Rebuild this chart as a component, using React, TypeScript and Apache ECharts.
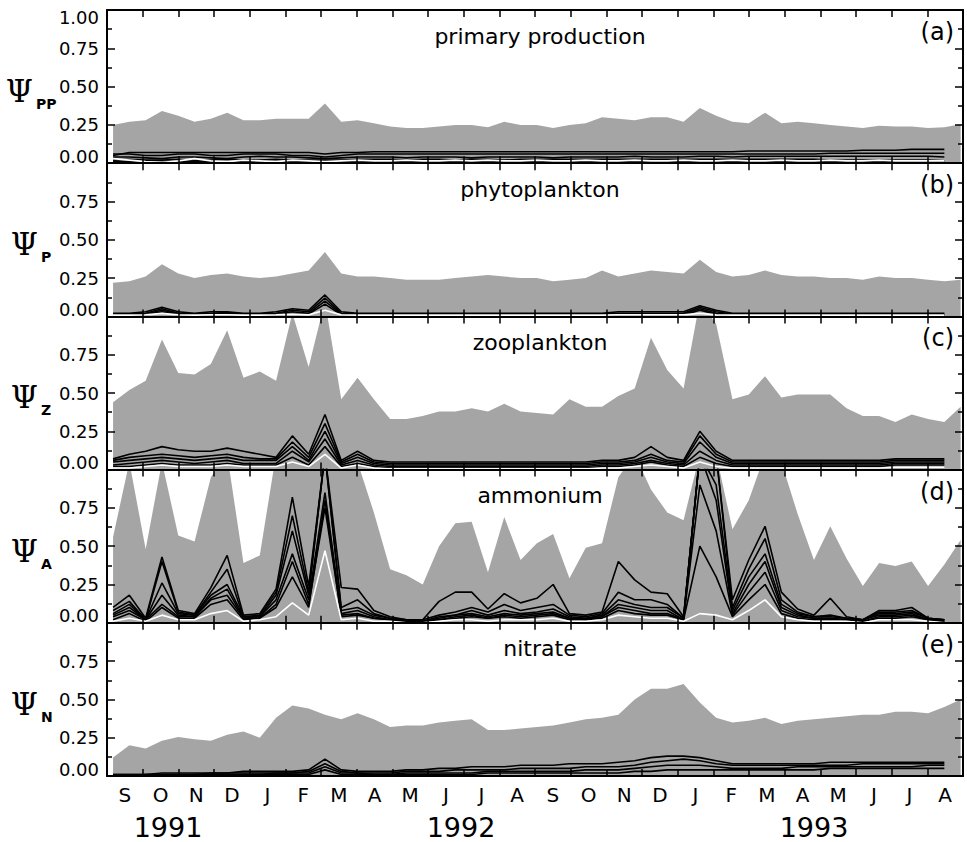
import React, { useEffect, useRef } from "react";
import * as echarts from "echarts";

// ---------- categories / labels ----------
const monthLabels = ["S","O","N","D","J","F","M","A","M","J","J","A","S","O","N","D","J","F","M","A","M","J","J","A"];
const yearLabels = ["1991", "1992", "1993"];
const panelTitles = ["primary production", "phytoplankton", "zooplankton", "ammonium", "nitrate"];
const panelTags = ["(a)", "(b)", "(c)", "(d)", "(e)"];
const psiSubscripts = ["PP", "P", "Z", "A", "N"];

// fortnightly sampling, time in months since 1 Sep 1991
const firstSample = 0.17;
const sampleStep = 0.457;
const sampleCount = 53;
const sampleTimes = Array.from({ length: sampleCount }, (_, k) => firstSample + sampleStep * k);

// ---------- (a) primary production ----------
const envPP = [0.25,0.27,0.28,0.34,0.31,0.27,0.29,0.33,0.28,0.28,0.29,0.29,0.29,0.39,0.27,0.28,0.26,0.24,0.23,0.23,0.24,0.25,0.25,0.235,0.27,0.25,0.25,0.23,0.25,0.26,0.30,0.29,0.28,0.30,0.30,0.27,0.36,0.31,0.27,0.26,0.33,0.26,0.27,0.26,0.25,0.24,0.23,0.245,0.24,0.24,0.23,0.235,0.255];
const pp1 = [0.05,0.07,0.07,0.07,0.07,0.07,0.07,0.07,0.07,0.07,0.07,0.07,0.07,0.06,0.07,0.07,0.075,0.075,0.075,0.075,0.075,0.075,0.075,0.075,0.075,0.075,0.075,0.075,0.075,0.075,0.075,0.075,0.075,0.075,0.075,0.075,0.075,0.075,0.075,0.08,0.08,0.08,0.08,0.08,0.08,0.08,0.085,0.085,0.085,0.09,0.09,0.09];
const pp2 = [0.06,0.06,0.05,0.05,0.06,0.06,0.05,0.05,0.06,0.06,0.06,0.05,0.05,0.04,0.05,0.06,0.06,0.06,0.06,0.06,0.06,0.06,0.06,0.06,0.06,0.06,0.06,0.06,0.06,0.06,0.06,0.06,0.06,0.06,0.06,0.06,0.06,0.06,0.06,0.06,0.06,0.06,0.06,0.06,0.065,0.065,0.065,0.065,0.065,0.065,0.065,0.065];
const pp3 = [0.04,0.04,0.035,0.03,0.04,0.04,0.035,0.03,0.04,0.045,0.04,0.04,0.035,0.03,0.035,0.04,0.04,0.04,0.035,0.04,0.04,0.04,0.035,0.04,0.04,0.04,0.04,0.035,0.04,0.04,0.04,0.04,0.045,0.04,0.04,0.04,0.045,0.045,0.04,0.045,0.045,0.045,0.045,0.045,0.045,0.045,0.045,0.045,0.045,0.045,0.045,0.04];
const pp4 = [0.02,0.025,0.02,0.02,0.025,0.02,0.02,0.025,0.02,0.02,0.025,0.02,0.02,0.02,0.02,0.025,0.025,0.025,0.02,0.025,0.025,0.02,0.025,0.025,0.02,0.025,0.025,0.025,0.025,0.025,0.025,0.025,0.025,0.025,0.025,0.025,0.025,0.025,0.025,0.025,0.025,0.025,0.025,0.025,0.02,0.02,0.02,0.02,0.02,0.02,0.02,0.015];
const pp5 = [0.01,0.01,0.005,0.005,0.01,0.01,0.01,0.005,0.01,0.01,0.01,0.01,0.01,0.005,0.01,0.01,0.01,0.01,0.01,0.01,0.01,0.01,0.01,0.01,0.01,0.01,0.01,0.01,0.01,0.01,0.01,0.01,0.01,0.01,0.01,0.01,0.01,0.01,0.01,0.01,0.01,0.01,0.01,0.01,0.01,0.01,0.01,0.01,0.01,0.01,0.01,0.01];
const ppW = [0.03,0.02,0.01,0.005,0.015,0.03,0.015,0.01,0.02,0.015,0.01,0.02,0.015,0.01,0.015,0.02,0.015,0.015,0.02,0.015,0.015,0.02,0.015,0.02,0.015,0.015,0.02,0.015,0.015,0.02,0.015,0.015,0.02,0.015,0.015,0.02,0.015,0.015,0.02,0.015,0.015,0.02,0.015,0.015,0.02,0.015,0.015,0.02,0.015,0.015,0.015,0.015];

// ---------- (b) phytoplankton ----------
const envP = [0.22,0.23,0.26,0.34,0.28,0.25,0.27,0.28,0.26,0.25,0.26,0.28,0.30,0.42,0.28,0.26,0.26,0.25,0.24,0.24,0.24,0.25,0.26,0.27,0.26,0.25,0.25,0.23,0.24,0.25,0.30,0.26,0.28,0.30,0.29,0.28,0.37,0.29,0.26,0.27,0.30,0.27,0.26,0.26,0.25,0.25,0.24,0.26,0.25,0.25,0.24,0.23,0.24];
const p1 = [0.02,0.02,0.03,0.06,0.03,0.02,0.03,0.03,0.02,0.02,0.03,0.05,0.04,0.14,0.03,0.02,0.02,0.02,0.02,0.02,0.02,0.02,0.02,0.02,0.02,0.02,0.02,0.02,0.02,0.02,0.02,0.03,0.03,0.03,0.03,0.03,0.07,0.04,0.02,0.02,0.02,0.02,0.02,0.02,0.02,0.02,0.02,0.02,0.02,0.02,0.02,0.02];
const p2 = [0.015,0.015,0.02,0.05,0.02,0.015,0.02,0.025,0.015,0.015,0.02,0.04,0.03,0.12,0.02,0.015,0.015,0.015,0.015,0.015,0.015,0.015,0.015,0.015,0.015,0.015,0.015,0.015,0.015,0.015,0.015,0.02,0.02,0.02,0.02,0.02,0.06,0.03,0.015,0.015,0.015,0.015,0.015,0.015,0.015,0.015,0.015,0.015,0.015,0.015,0.015,0.015];
const p3 = [0.01,0.01,0.015,0.04,0.015,0.01,0.015,0.02,0.01,0.01,0.015,0.03,0.02,0.10,0.015,0.01,0.01,0.01,0.01,0.01,0.01,0.01,0.01,0.01,0.01,0.01,0.01,0.01,0.01,0.01,0.01,0.015,0.015,0.015,0.015,0.015,0.05,0.02,0.01,0.01,0.01,0.01,0.01,0.01,0.01,0.01,0.01,0.01,0.01,0.01,0.01,0.01];
const p4 = [0.005,0.005,0.01,0.03,0.01,0.005,0.01,0.01,0.005,0.005,0.01,0.02,0.015,0.08,0.01,0.005,0.005,0.005,0.005,0.005,0.005,0.005,0.005,0.005,0.005,0.005,0.005,0.005,0.005,0.005,0.005,0.01,0.01,0.01,0.01,0.01,0.04,0.015,0.005,0.005,0.005,0.005,0.005,0.005,0.005,0.005,0.005,0.005,0.005,0.005,0.005,0.005];
const pW = [0.008,0.008,0.01,0.02,0.01,0.008,0.01,0.01,0.008,0.008,0.01,0.015,0.01,0.04,0.01,0.008,0.008,0.008,0.008,0.008,0.008,0.008,0.008,0.008,0.008,0.008,0.008,0.008,0.008,0.008,0.008,0.01,0.01,0.01,0.01,0.01,0.02,0.01,0.008,0.008,0.008,0.008,0.008,0.008,0.008,0.008,0.008,0.008,0.008,0.008,0.008,0.008];

// ---------- (c) zooplankton ----------
const envZ = [0.44,0.52,0.58,0.85,0.63,0.62,0.69,0.91,0.60,0.64,0.58,1.02,0.67,1.10,0.46,0.60,0.46,0.33,0.33,0.35,0.38,0.38,0.40,0.38,0.43,0.38,0.37,0.36,0.46,0.41,0.41,0.48,0.53,0.86,0.65,0.53,1.10,0.95,0.46,0.49,0.61,0.47,0.49,0.49,0.49,0.40,0.35,0.35,0.31,0.36,0.33,0.31,0.41];
const z1 = [0.07,0.10,0.12,0.15,0.13,0.12,0.12,0.14,0.12,0.10,0.08,0.22,0.10,0.36,0.06,0.12,0.06,0.05,0.05,0.05,0.05,0.05,0.05,0.05,0.05,0.05,0.05,0.05,0.05,0.05,0.06,0.06,0.08,0.15,0.08,0.06,0.25,0.12,0.06,0.06,0.06,0.06,0.06,0.06,0.06,0.06,0.06,0.06,0.07,0.07,0.07,0.07];
const z2 = [0.06,0.08,0.09,0.10,0.09,0.08,0.09,0.10,0.08,0.07,0.07,0.18,0.08,0.30,0.05,0.10,0.05,0.04,0.04,0.04,0.04,0.04,0.04,0.04,0.04,0.04,0.04,0.04,0.04,0.04,0.05,0.05,0.06,0.10,0.06,0.05,0.22,0.10,0.05,0.05,0.05,0.05,0.05,0.05,0.05,0.05,0.05,0.05,0.06,0.06,0.06,0.06];
const z3 = [0.05,0.06,0.07,0.08,0.07,0.06,0.07,0.08,0.06,0.06,0.06,0.15,0.06,0.25,0.04,0.08,0.04,0.03,0.03,0.03,0.03,0.03,0.03,0.03,0.03,0.03,0.03,0.03,0.03,0.03,0.04,0.04,0.05,0.08,0.05,0.04,0.18,0.08,0.04,0.04,0.04,0.04,0.04,0.04,0.04,0.04,0.04,0.04,0.05,0.05,0.05,0.05];
const z4 = [0.03,0.04,0.05,0.06,0.05,0.04,0.05,0.06,0.04,0.04,0.04,0.12,0.05,0.20,0.03,0.06,0.03,0.02,0.02,0.02,0.02,0.02,0.02,0.02,0.02,0.02,0.02,0.02,0.02,0.02,0.03,0.03,0.04,0.06,0.04,0.03,0.12,0.06,0.03,0.03,0.03,0.03,0.03,0.03,0.03,0.03,0.03,0.03,0.04,0.04,0.04,0.04];
const z5 = [0.02,0.02,0.03,0.04,0.03,0.03,0.03,0.04,0.03,0.03,0.03,0.08,0.03,0.15,0.02,0.04,0.02,0.01,0.01,0.01,0.01,0.01,0.01,0.01,0.01,0.01,0.01,0.01,0.01,0.01,0.02,0.02,0.03,0.05,0.03,0.02,0.08,0.04,0.02,0.02,0.02,0.02,0.02,0.02,0.02,0.02,0.02,0.02,0.03,0.03,0.03,0.03];
const zW = [0.01,0.01,0.02,0.03,0.02,0.02,0.02,0.03,0.02,0.02,0.02,0.05,0.02,0.10,0.01,0.03,0.01,0.005,0.005,0.005,0.005,0.005,0.005,0.005,0.005,0.005,0.005,0.005,0.005,0.005,0.01,0.01,0.02,0.03,0.02,0.01,0.05,0.02,0.01,0.01,0.01,0.01,0.01,0.01,0.01,0.01,0.01,0.01,0.015,0.015,0.015,0.015];

// ---------- (d) ammonium ----------
const envA = [0.56,1.05,0.48,1.05,0.57,0.53,0.95,1.10,0.39,0.44,1.10,1.10,1.10,1.10,1.10,1.05,0.72,0.35,0.31,0.25,0.50,0.65,0.66,0.33,0.69,0.41,0.52,0.58,0.29,0.49,0.52,0.95,1.10,0.87,0.72,0.67,1.10,1.10,0.61,0.80,1.10,1.05,0.71,0.41,0.63,0.42,0.24,0.39,0.37,0.40,0.24,0.38,0.54];
const a1 = [0.10,0.18,0.03,0.43,0.08,0.06,0.23,0.44,0.05,0.06,0.22,0.82,0.24,1.10,0.23,0.22,0.08,0.04,0.02,0.02,0.14,0.20,0.20,0.09,0.19,0.13,0.16,0.25,0.06,0.05,0.07,0.40,0.28,0.20,0.19,0.04,1.10,1.10,0.15,0.41,0.63,0.20,0.09,0.05,0.16,0.04,0.02,0.08,0.08,0.10,0.03,0.02];
const a2 = [0.08,0.14,0.02,0.40,0.07,0.05,0.20,0.35,0.04,0.05,0.20,0.70,0.20,1.10,0.10,0.15,0.06,0.03,0.02,0.02,0.05,0.07,0.10,0.07,0.12,0.08,0.10,0.12,0.05,0.04,0.06,0.20,0.15,0.15,0.12,0.03,1.10,1.10,0.10,0.35,0.55,0.15,0.07,0.04,0.05,0.03,0.02,0.07,0.07,0.08,0.03,0.02];
const a3 = [0.06,0.12,0.02,0.26,0.06,0.05,0.18,0.25,0.04,0.04,0.18,0.60,0.18,1.10,0.08,0.10,0.05,0.03,0.02,0.01,0.04,0.05,0.08,0.05,0.08,0.06,0.07,0.09,0.04,0.03,0.05,0.15,0.12,0.10,0.10,0.03,1.10,0.90,0.08,0.30,0.45,0.12,0.06,0.04,0.04,0.03,0.02,0.06,0.06,0.07,0.03,0.02];
const a4 = [0.05,0.10,0.02,0.18,0.05,0.04,0.16,0.22,0.03,0.04,0.15,0.45,0.15,0.85,0.06,0.08,0.04,0.02,0.01,0.01,0.03,0.05,0.06,0.04,0.06,0.05,0.06,0.07,0.03,0.03,0.04,0.12,0.10,0.08,0.08,0.02,1.10,0.80,0.06,0.25,0.40,0.10,0.05,0.03,0.03,0.02,0.02,0.05,0.05,0.06,0.02,0.02];
const a5 = [0.04,0.08,0.02,0.12,0.04,0.04,0.15,0.18,0.03,0.03,0.12,0.40,0.12,0.75,0.05,0.06,0.03,0.02,0.01,0.01,0.02,0.04,0.05,0.03,0.05,0.04,0.05,0.06,0.03,0.02,0.04,0.10,0.08,0.06,0.06,0.02,0.90,0.60,0.05,0.20,0.33,0.08,0.04,0.03,0.03,0.02,0.01,0.04,0.04,0.05,0.02,0.01];
const a6 = [0.02,0.06,0.01,0.10,0.03,0.03,0.12,0.15,0.02,0.03,0.10,0.30,0.10,0.80,0.04,0.05,0.03,0.02,0.01,0.01,0.02,0.03,0.04,0.03,0.04,0.03,0.04,0.05,0.02,0.02,0.03,0.08,0.06,0.05,0.05,0.02,0.50,0.30,0.04,0.15,0.25,0.06,0.03,0.02,0.02,0.02,0.01,0.03,0.03,0.04,0.02,0.01];
const aW = [0.01,0.03,0.01,0.05,0.02,0.02,0.06,0.08,0.01,0.02,0.04,0.13,0.05,0.47,0.02,0.03,0.01,0.01,0.00,0.00,0.01,0.02,0.02,0.01,0.02,0.02,0.02,0.03,0.01,0.01,0.02,0.05,0.04,0.03,0.03,0.01,0.06,0.05,0.02,0.08,0.15,0.04,0.02,0.01,0.01,0.01,0.00,0.02,0.02,0.02,0.01,0.00];

// ---------- (e) nitrate ----------
const envN = [0.12,0.20,0.18,0.23,0.255,0.24,0.23,0.27,0.29,0.25,0.38,0.46,0.44,0.40,0.37,0.41,0.37,0.32,0.33,0.33,0.35,0.36,0.37,0.30,0.30,0.31,0.32,0.33,0.35,0.37,0.38,0.40,0.50,0.57,0.57,0.60,0.48,0.38,0.35,0.36,0.38,0.34,0.36,0.37,0.38,0.39,0.40,0.40,0.42,0.42,0.41,0.45,0.50];
const n1 = [0.01,0.01,0.01,0.02,0.02,0.02,0.02,0.02,0.03,0.03,0.03,0.03,0.04,0.11,0.04,0.03,0.03,0.03,0.04,0.04,0.05,0.05,0.06,0.06,0.06,0.07,0.07,0.07,0.08,0.08,0.08,0.09,0.10,0.12,0.13,0.13,0.12,0.10,0.08,0.08,0.08,0.08,0.08,0.08,0.09,0.09,0.09,0.09,0.09,0.09,0.09,0.09];
const n2 = [0.01,0.01,0.01,0.01,0.01,0.01,0.02,0.02,0.02,0.02,0.02,0.02,0.03,0.08,0.03,0.02,0.02,0.02,0.03,0.03,0.03,0.04,0.04,0.04,0.04,0.05,0.05,0.05,0.05,0.06,0.06,0.06,0.07,0.09,0.10,0.11,0.10,0.08,0.07,0.07,0.07,0.07,0.07,0.07,0.07,0.07,0.08,0.08,0.08,0.08,0.08,0.08];
const n3 = [0.00,0.00,0.01,0.01,0.01,0.01,0.01,0.01,0.01,0.01,0.02,0.02,0.02,0.06,0.02,0.02,0.01,0.01,0.02,0.02,0.02,0.02,0.02,0.03,0.03,0.03,0.03,0.03,0.03,0.04,0.04,0.04,0.05,0.06,0.07,0.07,0.07,0.06,0.05,0.05,0.05,0.05,0.06,0.06,0.06,0.06,0.06,0.06,0.06,0.06,0.07,0.07];
const n4 = [0.00,0.00,0.00,0.00,0.00,0.01,0.01,0.01,0.01,0.01,0.01,0.01,0.01,0.04,0.01,0.01,0.01,0.01,0.01,0.01,0.01,0.01,0.01,0.02,0.02,0.02,0.02,0.02,0.02,0.02,0.02,0.02,0.03,0.03,0.04,0.04,0.04,0.04,0.04,0.04,0.04,0.04,0.04,0.04,0.05,0.05,0.05,0.05,0.05,0.05,0.05,0.05];

const panels = [
  { env: envPP, black: [pp1, pp2, pp3, pp4, pp5], white: [ppW] },
  { env: envP, black: [p1, p2, p3, p4], white: [pW] },
  { env: envZ, black: [z1, z2, z3, z4, z5], white: [zW] },
  { env: envA, black: [a1, a2, a3, a4, a5, a6], white: [aW] },
  { env: envN, black: [n1, n2, n3, n4], white: [] as number[][] },
];

// ---------- layout ----------
const W = 967;
const H = 842;
const GRID_LEFT = 107;
const GRID_WIDTH = 856;
const GRID_TOP = 10;
const PANEL_H = 153.2;
const FONT = "'DejaVu Sans', sans-serif";
const GRAY = "#a5a5a5";
const LINE_W = 1.6;

export default function App() {
  const ref = useRef<HTMLDivElement>(null);

  useEffect(() => {
    if (!ref.current) return;
    const chart = echarts.init(ref.current, undefined, { renderer: "svg" });

    const monthCats = monthLabels.map((_, i) => "m" + i);
    const grid: any[] = [];
    const xAxis: any[] = [];
    const yAxis: any[] = [];
    const series: any[] = [];
    const graphic: any[] = [];

    const axisLine = { show: true, onZero: false, lineStyle: { color: "#000", width: 2 } };

    panels.forEach((p, i) => {
      const top = GRID_TOP + PANEL_H * i;
      grid.push({ left: GRID_LEFT, width: GRID_WIDTH, top, height: PANEL_H });

      const isBottom = i === panels.length - 1;
      xAxis.push({
        type: "category", gridIndex: i, position: "bottom", data: monthCats, boundaryGap: true, z: 10,
        axisLine,
        axisTick: { show: true, inside: true, length: 7, lineStyle: { color: "#000", width: 1.5 } },
        axisLabel: {
          show: isBottom, interval: 0, margin: 9, color: "#000", fontSize: 20, fontFamily: FONT,
          formatter: (_v: string, idx: number) => monthLabels[idx],
        },
        splitLine: { show: false },
      });
      xAxis.push({
        type: "category", gridIndex: i, position: "top", data: monthCats, boundaryGap: true, z: 10,
        axisLine,
        axisTick: { show: true, inside: true, length: 7, lineStyle: { color: "#000", width: 1.5 } },
        axisLabel: { show: false },
        splitLine: { show: false },
      });
      xAxis.push({ type: "value", gridIndex: i, min: 0, max: 24, show: false, splitLine: { show: false } });

      const rich = {
        lo: { fontSize: 18, fontFamily: FONT, color: "#000", padding: [0, 0, 14, 0] },
        hi: { fontSize: 18, fontFamily: FONT, color: "#000", padding: [14, 0, 0, 0] },
      };
      yAxis.push({
        type: "value", gridIndex: i, min: 0, max: 1, interval: 0.25, position: "left", z: 10,
        axisLine,
        axisTick: { show: true, inside: true, length: 8, lineStyle: { color: "#000", width: 1.5 } },
        minorTick: { show: true, splitNumber: 2, length: 5, lineStyle: { color: "#000", width: 1.5 } },
        splitLine: { show: false },
        axisLabel: {
          margin: 8, color: "#000", fontSize: 18, fontFamily: FONT, rich,
          formatter: (v: number) => {
            if (v >= 1) return i === 0 ? "{hi|" + v.toFixed(2) + "}" : "";
            if (v <= 0) return "{lo|" + v.toFixed(2) + "}";
            return v.toFixed(2);
          },
        },
      });
      yAxis.push({
        type: "value", gridIndex: i, min: 0, max: 1, interval: 0.25, position: "right", z: 10,
        axisLine,
        axisTick: { show: true, inside: true, length: 8, lineStyle: { color: "#000", width: 1.5 } },
        minorTick: { show: true, splitNumber: 2, length: 5, lineStyle: { color: "#000", width: 1.5 } },
        splitLine: { show: false },
        axisLabel: { show: false },
      });

      const xi = 3 * i + 2;
      const yi = 2 * i;
      series.push({
        type: "line", xAxisIndex: xi, yAxisIndex: yi, silent: true, symbol: "none", z: 1,
        data: p.env.map((v, k) => [sampleTimes[k], v]),
        lineStyle: { width: 0, opacity: 0 },
        areaStyle: { color: GRAY, opacity: 1 },
        clip: true,
      });
      p.black.forEach((arr) => {
        series.push({
          type: "line", xAxisIndex: xi, yAxisIndex: yi, silent: true, symbol: "none", z: 2,
          data: arr.map((v, k) => [sampleTimes[k], v]),
          lineStyle: { color: "#000", width: LINE_W },
          clip: true,
        });
      });
      p.white.forEach((arr) => {
        series.push({
          type: "line", xAxisIndex: xi, yAxisIndex: yi, silent: true, symbol: "none", z: 3,
          data: arr.map((v, k) => [sampleTimes[k], v]),
          lineStyle: { color: "#fff", width: LINE_W },
          clip: true,
        });
      });

      graphic.push({
        type: "text", x: GRID_LEFT + GRID_WIDTH / 2 + 5, y: top + 26, z: 20,
        style: { text: panelTitles[i], fill: "#000", fontSize: 22, fontFamily: FONT,
          align: "center", verticalAlign: "middle", textAlign: "center", textVerticalAlign: "middle" },
      });
      graphic.push({
        type: "text", x: GRID_LEFT + GRID_WIDTH - 9, y: top + 22, z: 20,
        style: { text: panelTags[i], fill: "#000", fontSize: 24, fontFamily: FONT,
          align: "right", verticalAlign: "middle", textAlign: "right", textVerticalAlign: "middle" },
      });
      const subLeft = psiSubscripts[i].length > 1 ? 36 : 41;
      graphic.push({
        type: "text", x: subLeft - 3, y: top + 81, z: 20,
        style: { text: "\u03A8", fill: "#000", fontSize: 31, fontFamily: "'DejaVu Serif', serif",
          align: "right", verticalAlign: "middle", textAlign: "right", textVerticalAlign: "middle" },
      });
      graphic.push({
        type: "text", x: subLeft, y: top + 94, z: 20,
        style: { text: psiSubscripts[i], fill: "#000", fontSize: 14, fontWeight: "bold", fontFamily: FONT,
          align: "left", verticalAlign: "middle", textAlign: "left", textVerticalAlign: "middle" },
      });
    });

    const yearX = [168, 461, 814];
    yearLabels.forEach((yl, j) => {
      graphic.push({
        type: "text", x: yearX[j], y: 827, z: 20,
        style: { text: yl, fill: "#000", fontSize: 27, fontFamily: FONT,
          align: "center", verticalAlign: "middle", textAlign: "center", textVerticalAlign: "middle" },
      });
    });

    chart.setOption({
      animation: false,
      backgroundColor: "#fff",
      grid, xAxis, yAxis, series, graphic,
    });

    return () => chart.dispose();
  }, []);

  return (
    <div
      ref={ref}
      style={{ position: "absolute", left: 0, top: 0, width: W, height: H, background: "#fff" }}
    />
  );
}
